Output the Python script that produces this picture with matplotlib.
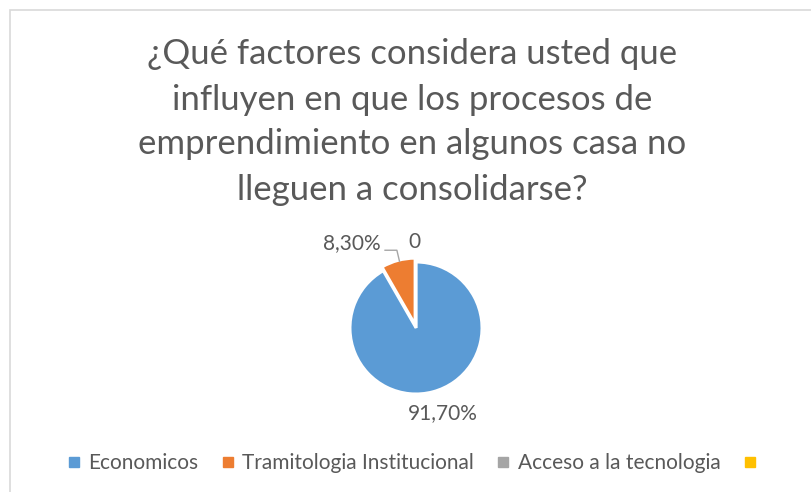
import matplotlib.pyplot as plt
from matplotlib.lines import Line2D
from matplotlib.patches import Rectangle

# datos del grafico
categorias = ['Economicos', 'Tramitologia Institucional', 'Acceso a la tecnologia', '']
valores = [91.7, 8.3, 0]
etiquetas = ['91,70%', '8,30%', '0']
colores = ['#5B9BD5', '#ED7D31', '#A5A5A5', '#FFC000']
titulo = ('¿Qué factores considera usted que\ninfluyen en que los procesos de\n'
          'emprendimiento en algunos casa no\nlleguen a consolidarse?')

plt.rcParams['font.family'] = ['Lato', 'DejaVu Sans']
gris = '#595959'

fig = plt.figure(figsize=(8.11, 4.92), dpi=100)

# marco del area del grafico
fig.patches.append(Rectangle((10 / 811, -0.05), 1.0, 1 - 10 / 492 + 0.05,
                             transform=fig.transFigure, fill=False,
                             edgecolor='#D9D9D9', linewidth=1.2))

fig.text(0.508, 1 - 122 / 492, titulo, ha='center', va='center', fontsize=25,
         color=gris, linespacing=1.5)

ax = fig.add_axes([416 / 811 - 0.130, (1 - 328 / 492) - 0.2145, 0.260, 0.429])
wedges, _ = ax.pie(valores, colors=colores[:3], startangle=90, counterclock=False,
                   explode=[0, 0.06, 0], radius=1.0,
                   wedgeprops=dict(edgecolor='white', linewidth=2))
ax.set_xlim(-1.6, 1.6)
ax.set_ylim(-1.6, 1.6)
ax.set_aspect('equal')
ax.axis('off')

# etiquetas de datos
pos = [(0.40, -1.29), (-0.97, 1.29), (-0.02, 1.3)]
for (x, y), txt in zip(pos, etiquetas):
    ax.text(x, y, txt, ha='center', va='center', fontsize=15, color=gris)
# linea guia de 8,30%
ax.plot([-0.47, -0.29, -0.25], [1.18, 1.18, 1.01], color='#A6A6A6', linewidth=1)

handles = [Line2D([], [], marker='s', linestyle='none', markersize=6.5,
                  markerfacecolor=c, markeredgecolor=c) for c in colores]
fig.legend(handles, categorias, loc='center', bbox_to_anchor=(0.513, 1 - 463 / 492),
           ncol=4, frameon=False, fontsize=15, handlelength=0.6,
           handletextpad=0.4, columnspacing=1.1, labelcolor=gris)

fig.savefig('out.png', dpi=100)
